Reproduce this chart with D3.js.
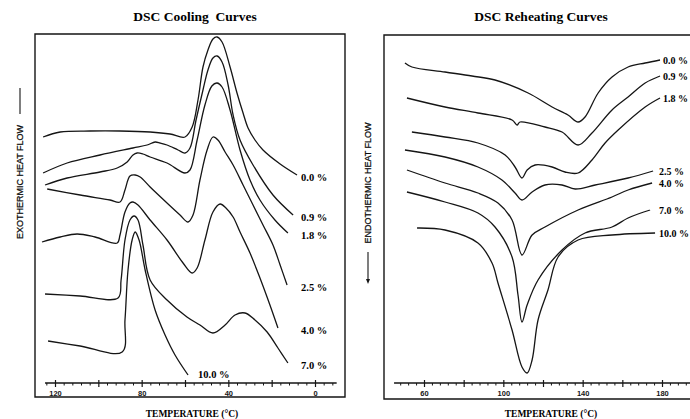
<!DOCTYPE html>
<html>
<head>
<meta charset="utf-8">
<script src="https://cdn.jsdelivr.net/npm/d3@7/dist/d3.min.js"></script>
<style>
  body { margin: 0; background: #fff; }
  svg { display: block; }
  .curve { fill: none; stroke: #151515; stroke-width: 1.3; stroke-linejoin: round; }
  .frame { fill: none; stroke: #151515; stroke-width: 1.4; }
  .title { font-family: "Liberation Serif", serif; font-weight: bold; font-size: 13.5px; white-space: pre; }
  .xtitle { font-family: "Liberation Serif", serif; font-weight: bold; font-size: 9.5px; }
  .ytitle { font-family: "Liberation Sans", sans-serif; font-size: 9px; stroke: #151515; stroke-width: 0.25; }
  .clabel { font-family: "Liberation Serif", serif; font-weight: bold; font-size: 10.5px; white-space: pre; }
  .clabel.r { font-size: 10px; }
  .axis text { font-family: "Liberation Sans", sans-serif; font-weight: bold; font-size: 7.5px; }
</style>
</head>
<body>
<script>
// temperature in °C, heat flow in arbitrary units
const coolLabels = ["0.0 %", "0.9 %", "1.8 %", "2.5 %", "4.0 %", "7.0 %", "10.0 %"];
const cool00 = [[125.5,246],[117.6,251],[103.8,252],[90.0,252],[76.1,251],[66.9,249],[60.0,246],[56.7,256],[54.0,283],[51.7,316],[49.4,333],[47.1,344],[45.2,346],[42.9,341],[39.2,316],[36.0,290],[33.2,270],[30.9,255],[27.7,243],[24.0,233],[16.1,219],[8.3,208]];
const cool09 = [[125.5,210],[114.4,220],[99.2,228],[84.0,235],[77.5,238],[73.8,241],[71.5,240],[68.3,238],[63.2,233],[60.0,230],[57.7,235],[54.9,263],[51.7,293],[49.4,313],[47.1,325],[45.2,327],[42.9,321],[40.1,298],[37.8,268],[34.6,243],[28.6,218],[19.4,188],[10.1,168]];
const cool18 = [[124.6,198],[114.4,205],[99.2,211],[91.3,215],[86.7,221],[84.0,228],[82.1,230],[79.4,229],[76.1,226],[68.3,220],[60.0,210],[57.7,213],[54.4,243],[50.8,278],[47.6,297],[45.2,300],[42.9,296],[39.2,273],[34.6,233],[30.0,203],[25.4,183],[18.5,163],[12.5,150]];
const cool25 = [[123.6,194],[108.4,188],[94.6,183],[90.0,181],[87.7,193],[85.4,207],[83.0,208],[80.7,206],[76.1,196],[68.3,180],[62.3,168],[58.6,161],[56.3,168],[53.1,203],[49.8,233],[47.1,246],[44.8,243],[41.5,231],[37.8,218],[33.2,198],[28.6,178],[24.0,158],[19.4,138],[16.1,118],[12.9,98]];
const cool40 = [[126.0,141],[117.6,146],[109.8,149],[101.5,146],[91.3,140],[90.0,148],[87.7,171],[85.4,180],[84.0,181],[81.7,178],[76.1,163],[68.3,143],[60.9,120],[56.7,110],[54.4,115],[50.8,143],[47.1,171],[43.8,179],[41.1,175],[37.8,166],[34.6,151],[30.0,130],[25.4,105],[20.8,78],[17.1,55]];
const cool70 = [[124.6,89],[108.4,87],[90.9,85],[89.5,103],[87.7,143],[85.4,163],[83.5,167],[81.7,163],[79.4,138],[76.1,103],[68.3,83],[59.1,66],[53.1,58],[47.1,50],[41.5,58],[36.9,68],[32.3,70],[27.7,63],[22.1,51],[17.1,35],[12.5,20]];
const cool100 = [[123.2,42],[108.4,37],[89.0,31],[87.7,63],[86.3,113],[84.4,143],[83.0,151],[81.2,143],[78.4,113],[73.8,73],[69.2,48],[64.6,28],[58.6,8]];

const heatLabels = ["0.0 %", "0.9 %", "1.8 %", "2.5 %", "4.0 %", "7.0 %", "10.0 %"];
const heat00 = [[50.4,320],[53.9,316],[70.6,311],[84.2,307],[95.8,303],[112.5,290],[124.6,276],[132.6,268],[137.7,261],[141.2,266],[147.8,290],[154.8,306],[162.9,316],[171.5,320],[179.0,323]];
const heat09 = [[51.4,285],[70.6,276],[87.2,270],[104.4,263],[106.9,258],[108.4,261],[121.0,256],[129.6,251],[137.7,238],[144.7,250],[154.8,273],[162.9,286],[171.5,300],[179.0,307]];
const heat18 = [[53.9,251],[70.6,246],[87.2,240],[100.9,228],[105.9,216],[109.4,205],[112.0,213],[116.0,218],[124.6,216],[131.1,211],[137.7,210],[144.7,223],[151.3,240],[157.9,253],[171.5,276],[179.0,285]];
const heat25 = [[50.4,233],[70.6,226],[87.2,216],[99.3,203],[105.9,190],[109.4,183],[114.5,191],[121.0,198],[129.6,198],[136.2,194],[146.3,198],[162.9,205],[175.5,212]];
const heat40 = [[51.4,213],[70.6,200],[87.2,190],[97.3,180],[104.4,163],[109.4,128],[114.5,148],[121.0,156],[137.7,173],[154.8,186],[162.9,193],[175.0,200]];
const heat70 = [[51.4,191],[70.6,181],[87.2,170],[95.8,156],[104.4,126],[107.4,88],[109.4,61],[112.0,78],[117.5,103],[129.6,133],[141.2,150],[154.8,156],[162.9,165],[174.0,173]];
const heat100 = [[56.5,155],[70.6,153],[87.2,140],[94.3,120],[97.3,100],[104.4,53],[109.4,16],[112.0,10],[114.5,23],[117.5,63],[122.5,93],[127.6,126],[137.7,143],[154.8,148],[176.5,150]];

const coolTicks = [120, 100, 80, 60, 40, 20, 0];
const coolTickLabels = [120, 80, 40, 0];
const heatTicks = [60, 80, 100, 120, 140, 160, 180];
const heatTickLabels = [60, 100, 140, 180];

const width = 690, height = 419;
const axisY = 383;

const svg = d3.select("body").append("svg")
    .attr("width", width)
    .attr("height", height);

const y = d3.scaleLinear().domain([0, 350]).range([axisY, 33]);

const panels = [
    {
        title: "DSC Cooling  Curves", titleX: 195,
        box: [35, 34, 345, 397], closed: true,
        x: d3.scaleLinear().domain([120, 0]).range([55, 315]),
        axisExtent: [124.6, -10], minorFrom: 124, minorTo: -8,
        ticks: coolTicks, tickLabels: coolTickLabels,
        series: [cool00, cool09, cool18, cool25, cool40, cool70, cool100],
        labels: coolLabels, labelCol: 301, labelDy: 6, labelClass: "clabel",
        xTitleX: 192
    },
    {
        title: "DSC Reheating Curves", titleX: 541,
        box: [384, 35, 691, 399], closed: false,
        x: d3.scaleLinear().domain([60, 180]).range([424, 662]),
        axisExtent: [44.9, 196], minorFrom: 48, minorTo: 196,
        ticks: heatTicks, tickLabels: heatTickLabels,
        series: [heat00, heat09, heat18, heat25, heat40, heat70, heat100],
        labels: heatLabels, labelCol: 659, labelDy: 4, labelClass: "clabel r",
        xTitleX: 551
    }
];

panels.forEach(p => {
    const g = svg.append("g");
    const [bx0, by0, bx1, by1] = p.box;

    g.append("path")
      .attr("class", "frame")
      .attr("d", p.closed
        ? `M${bx0},${by0}H${bx1}V${by1}H${bx0}Z`
        : `M${bx1},${by0}H${bx0}V${by1}H${bx1}`);

    g.append("text")
      .attr("class", "title")
      .attr("x", p.titleX).attr("y", 21)
      .attr("text-anchor", "middle")
      .text(p.title);

    // axis baseline
    g.append("line")
      .attr("x1", p.x(p.axisExtent[0])).attr("x2", p.x(p.axisExtent[1]))
      .attr("y1", axisY).attr("y2", axisY)
      .attr("stroke", "#151515").attr("stroke-width", 1.3);

    // minor ticks every 4 degrees
    const minor = d3.range(Math.min(p.minorFrom, p.minorTo), Math.max(p.minorFrom, p.minorTo) + 1, 4)
      .filter(t => !p.ticks.includes(t));
    const minorG = g.append("g")
      .attr("transform", `translate(0,${axisY})`)
      .call(d3.axisBottom(p.x).tickValues(minor).tickSize(2.5).tickFormat(""));
    minorG.select(".domain").remove();
    minorG.selectAll("line").attr("stroke", "#151515").attr("stroke-width", 1);

    const majorG = g.append("g").attr("class", "axis")
      .attr("transform", `translate(0,${axisY})`)
      .call(d3.axisBottom(p.x)
        .tickValues(p.ticks)
        .tickSize(4)
        .tickPadding(4)
        .tickFormat(d => p.tickLabels.includes(d) ? d : ""));
    majorG.select(".domain").remove();
    majorG.selectAll("line").attr("y1", -3).attr("stroke", "#151515").attr("stroke-width", 1.2);
    majorG.selectAll("text").attr("fill", "#151515");

    g.append("text")
      .attr("class", "xtitle")
      .attr("x", p.xTitleX).attr("y", 417)
      .attr("text-anchor", "middle")
      .text("TEMPERATURE (°C)");

    const line = d3.line()
      .x(d => p.x(d[0]))
      .y(d => y(d[1]))
      .curve(d3.curveCatmullRom.alpha(0.5));

    g.selectAll(".curve")
      .data(p.series)
      .enter().append("path")
      .attr("class", "curve")
      .attr("d", line);

    // labels sit in a column at the right, unless the curve stops well short of it
    g.selectAll(".clabel")
      .data(p.series)
      .enter().append("text")
      .attr("class", p.labelClass)
      .attr("x", d => {
          const ex = p.x(d[d.length - 1][0]);
          return ex < p.labelCol - 40 ? ex + 10 : Math.max(p.labelCol, ex + 3);
      })
      .attr("y", d => Math.min(y(d[d.length - 1][1]) + p.labelDy, axisY - 5))
      .text((d, i) => p.labels[i]);
});

// y-axis titles with their arrows
const yl = svg.append("g");
yl.append("text")
  .attr("class", "ytitle")
  .attr("transform", "translate(23,182) rotate(-90)")
  .attr("text-anchor", "middle")
  .text("EXOTHERMIC HEAT FLOW");
yl.append("line")
  .attr("x1", 20).attr("x2", 20).attr("y1", 88).attr("y2", 114)
  .attr("stroke", "#151515").attr("stroke-width", 1.1);

yl.append("text")
  .attr("class", "ytitle")
  .attr("transform", "translate(371,183) rotate(-90)")
  .attr("text-anchor", "middle")
  .text("ENDOTHERMIC HEAT FLOW");
yl.append("line")
  .attr("x1", 368).attr("x2", 368).attr("y1", 252).attr("y2", 281)
  .attr("stroke", "#151515").attr("stroke-width", 1.1);
yl.append("path")
  .attr("d", "M366,279L368,284L370,279Z")
  .attr("fill", "#151515");
</script>
</body>
</html>
